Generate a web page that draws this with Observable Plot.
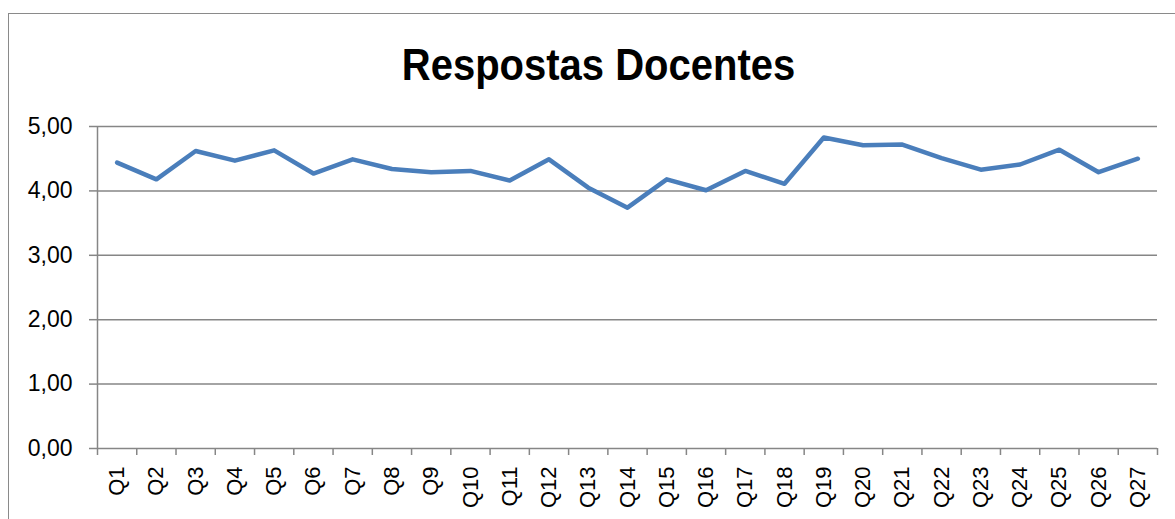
<!DOCTYPE html>
<html>
<head>
<meta charset="utf-8">
<script src="https://cdn.jsdelivr.net/npm/d3@7"></script>
<script src="https://cdn.jsdelivr.net/npm/@observablehq/plot@0.6"></script>
<style>
  html, body { margin: 0; padding: 0; background: #fff; }
  #wrap { position: relative; width: 1175px; height: 519px; overflow: hidden; font-family: "Liberation Sans", Arial, sans-serif; }
  #frame { position: absolute; left: 8px; top: 13px; width: 1300px; height: 600px; border-left: 1px solid #8a8a8a; border-top: 1px solid #8a8a8a; box-sizing: border-box; }
  #title { position: absolute; left: 0; width: 1197px; top: 41px; text-align: center; font-weight: bold; font-size: 40px; line-height: 48px; color: #000; transform: scaleY(1.1); }
  #chart { position: absolute; left: 0; top: 0; }
</style>
</head>
<body>
<div id="wrap">
  <div id="frame"></div>
  <div id="title">Respostas Docentes</div>
  <div id="chart"></div>
</div>
<script>
const categories = ["Q1","Q2","Q3","Q4","Q5","Q6","Q7","Q8","Q9","Q10","Q11","Q12","Q13","Q14","Q15","Q16","Q17","Q18","Q19","Q20","Q21","Q22","Q23","Q24","Q25","Q26","Q27"];
const values = [4.44,4.18,4.62,4.47,4.63,4.27,4.49,4.34,4.29,4.31,4.16,4.49,4.05,3.74,4.18,4.01,4.31,4.11,4.83,4.71,4.72,4.51,4.33,4.41,4.64,4.29,4.50];
const yTicks = [0,1,2,3,4,5];

const data = categories.map((c, i) => ({cat: c, pos: i + 0.5, value: values[i]}));
const grid = "#868686";
const fmt = d => d.toFixed(2).replace(".", ",");

const chart = Plot.plot({
  width: 1175,
  height: 519,
  marginTop: 126,
  marginLeft: 97,
  marginRight: 18,
  marginBottom: 71,
  style: {fontFamily: "Liberation Sans, Arial, sans-serif", color: "#000", background: "transparent"},
  x: {type: "linear", domain: [0, categories.length]},
  y: {domain: [0, 5]},
  marks: [
    Plot.ruleY(yTicks, {stroke: grid, strokeWidth: 1.5}),
    Plot.ruleX([0], {stroke: grid, strokeWidth: 1.5}),
    Plot.axisY({ticks: yTicks, tickSize: 8, tickPadding: 17, tickFormat: fmt, stroke: grid, strokeOpacity: 1, strokeWidth: 1.5, fontSize: 23, label: null}),
    Plot.axisX({ticks: d3.range(0, categories.length + 1), tickSize: 7, tickFormat: () => "", stroke: grid, strokeOpacity: 1, strokeWidth: 1.5, label: null}),
    Plot.axisX({ticks: data.map(d => d.pos), tickSize: 0, tickPadding: 18, tickRotate: -90, tickFormat: d => categories[Math.round(d - 0.5)], fontSize: 22, label: null}),
    Plot.line(data, {x: "pos", y: "value", stroke: "#4a7ebb", strokeWidth: 4.5, strokeLinejoin: "round", strokeLinecap: "round"})
  ]
});
document.getElementById("chart").appendChild(chart);
</script>
</body>
</html>
